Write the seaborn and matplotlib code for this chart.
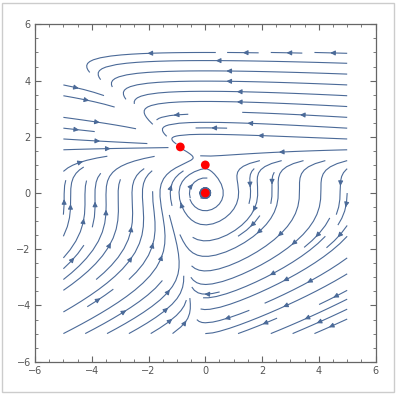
import numpy as np
import matplotlib
matplotlib.use("Agg")
import matplotlib.pyplot as plt
import seaborn as sns
import pandas as pd

# equilibrium points marked in red
eq_x = [0.0, 0.0, -0.88]
eq_y = [0.0, 1.0, 1.64]

# field coefficients
a0, m_top, n_bot, y_null = 0.72, 0.3, 0.45, 1.64

ticks = [-6, -4, -2, 0, 2, 4, 6]
line_col = "#4b6a98"

sns.set_theme(style="ticks")
plt.rcParams["font.family"] = ["DejaVu Sans"]

fig = plt.figure(figsize=(3.96, 3.95), dpi=100)
ax = fig.add_axes([0.0884, 0.0843, 0.860, 0.854])

xs = np.linspace(-5, 5, 200)
ys = np.linspace(-5, 5, 200)
X, Y = np.meshgrid(xs, ys)
U = Y - Y**2 - X * a0 * Y**2 * np.exp(-m_top * Y)
V = -X * (1 - Y / y_null) * np.exp(-n_bot * Y)

ax.streamplot(X, Y, U, V, density=0.9, color=line_col, linewidth=0.8,
              arrowsize=0.7, arrowstyle="-|>")

pts = pd.DataFrame({"x": eq_x, "y": eq_y})
sns.scatterplot(data=pts, x="x", y="y", color="red", s=40, edgecolor="none",
                zorder=5, ax=ax)

ax.set_xlim(-6, 6)
ax.set_ylim(-6, 6)
ax.set_xticks(ticks)
ax.set_yticks(ticks)
ax.set_xticks(np.arange(-6, 6.01, 0.5), minor=True)
ax.set_yticks(np.arange(-6, 6.01, 0.5), minor=True)
ax.set_xlabel("")
ax.set_ylabel("")
ax.tick_params(which="both", direction="in", top=True, right=True,
               color="#666666", labelsize=7, labelcolor="#555555", pad=3)
ax.tick_params(which="major", length=4, width=0.8)
ax.tick_params(which="minor", length=2, width=0.6)
for s in ax.spines.values():
    s.set_color("#666666")
    s.set_linewidth(0.9)

fig.patches.append(plt.Rectangle((0.006, 0.008), 0.988, 0.984, transform=fig.transFigure,
                                 fill=False, edgecolor="#cccccc", linewidth=1))

fig.savefig("out.png", dpi=100)
